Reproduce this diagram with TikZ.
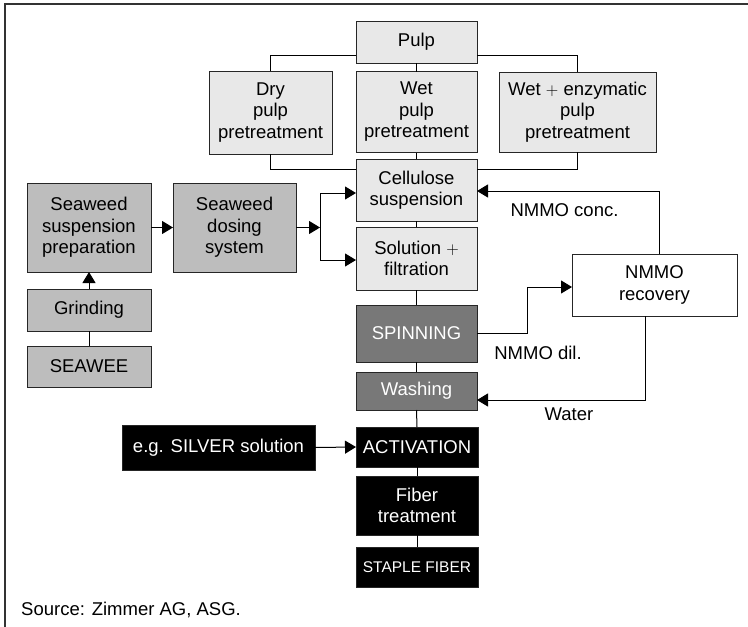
\documentclass[tikz,border=0pt]{standalone}
\usepackage{fontspec}
\setmainfont{Liberation Sans}
\usetikzlibrary{arrows.meta}
\begin{document}
\begin{tikzpicture}[x=1pt,y=-1pt,
  box/.style={draw=black!85, line width=1pt, align=center, inner sep=0pt, outer sep=0pt,
    font=\fontsize{18.5}{21.5}\selectfont},
  light/.style={box, fill=gray!18},
  sea/.style={box, fill=gray!52},
  dark/.style={box, fill=black!53, text=white},
  blk/.style={box, fill=black, text=white},
  wht/.style={box, fill=white},
  conn/.style={draw=black, line width=1pt},
  arr/.style={conn, -{Triangle[length=11pt,width=13pt]}},
  lbl/.style={font=\fontsize{18.5}{21.5}\selectfont, inner sep=0pt}]
\useasboundingbox (0,0) rectangle (748,627);
\fill[white] (0,0) rectangle (748,627);
\draw[black!80, line width=1.5pt] (748,4) -- (5,4) -- (5,627);

% nodes
\node[light, minimum width=121, minimum height=42] (pulp) at (416.5,42) {Pulp};
\node[light, minimum width=123, minimum height=83] (dry) at (270.5,112.5) {Dry\\pulp\\pretreatment};
\node[light, minimum width=121, minimum height=81] (wet) at (416.5,112) {Wet\\pulp\\pretreatment};
\node[light, minimum width=157, minimum height=80] (enz) at (577.5,112) {Wet $+$ enzymatic\\pulp\\pretreatment};
\node[light, minimum width=121, minimum height=62] (cell) at (416.5,190) {Cellulose\\suspension};
\node[light, minimum width=121, minimum height=63] (sol) at (416.5,258.5) {Solution $+$\\filtration};
\node[sea, minimum width=124, minimum height=89] (ssp) at (89,227.5) {Seaweed\\suspension\\preparation};
\node[sea, minimum width=123, minimum height=89] (sds) at (234.5,227.5) {Seaweed\\dosing\\system};
\node[sea, minimum width=124, minimum height=42] (grind) at (89,310) {Grinding};
\node[sea, minimum width=124, minimum height=41] (seawee) at (89,366.5) {SEAWEE};
\node[dark, minimum width=121, minimum height=57] (spin) at (416.5,333.5) {SPINNING};
\node[dark, minimum width=121, minimum height=38] (wash) at (416.5,391) {Washing};
\node[blk, minimum width=122, minimum height=40] (act) at (417,447) {ACTIVATION};
\node[blk, minimum width=122, minimum height=59] (fib) at (417,505.5) {Fiber\\treatment};
\node[blk, minimum width=122, minimum height=40, font=\fontsize{15.5}{18}\selectfont] (stap) at (417,567) {STAPLE FIBER};
\node[blk, minimum width=193, minimum height=45] (silver) at (218.5,447.5) {e.g. SILVER solution};
\node[wht, minimum width=165, minimum height=62] (rec) at (654.5,285) {NMMO\\recovery};

% coordinates
\coordinate (j) at (320,227.5);
\coordinate (j1) at (320,193);
\coordinate (j2) at (320,260);
\coordinate (dk) at (527,287);
\coordinate (rc) at (659,191);
\coordinate (wc) at (645,400);

% connectors
\draw[conn] (pulp.west |- 0,55) -| (dry.north);
\draw[conn] (pulp.east |- 0,55) -| (enz.north);
\draw[conn] (pulp.south) -- (wet.north);
\draw[conn] (dry.south) |- (cell.west |- 0,169);
\draw[conn] (enz.south) |- (cell.east |- 0,169);
\draw[conn] (wet.south) -- (cell.north);
\draw[conn] (cell.south) -- (sol.north);
\draw[conn] (sol.south) -- (spin.north);
\draw[conn] (spin.south) -- (wash.north);
\draw[conn] (wash.south) -- (act.north);
\draw[conn] (act.south) -- (fib.north);
\draw[conn] (fib.south) -- (stap.north);
\draw[arr] (ssp.east) -- (sds.west);
\draw[arr] (sds.east) -- (j);
\draw[conn] (j1) -- (j2);
\draw[arr] (j1) -- (j1 -| cell.west);
\draw[arr] (j2) -- (j2 -| sol.west);
\draw[arr] (grind.north) -- (ssp.south);
\draw[conn] (seawee.north) -- (grind.south);
\draw[arr] (silver.east) -- (act.west);
\draw[arr] (rec.north -| rc) -- (rc) -- (rc -| cell.east);
\draw[arr] (spin.east) -- (spin.east -| dk) -- (dk) -- (dk -| rec.west);
\draw[arr] (rec.south -| wc) -- (wc) -- (wc -| wash.east);

% labels
\node[lbl] (lconc) at (564.5,210) {NMMO conc.};
\node[lbl] (ldil) at (538,353) {NMMO dil.};
\node[lbl] (lwater) at (569,414) {Water};
\node[lbl, anchor=west] (src) at (21,610) {Source: Zimmer AG, ASG.};
\end{tikzpicture}
\end{document}
